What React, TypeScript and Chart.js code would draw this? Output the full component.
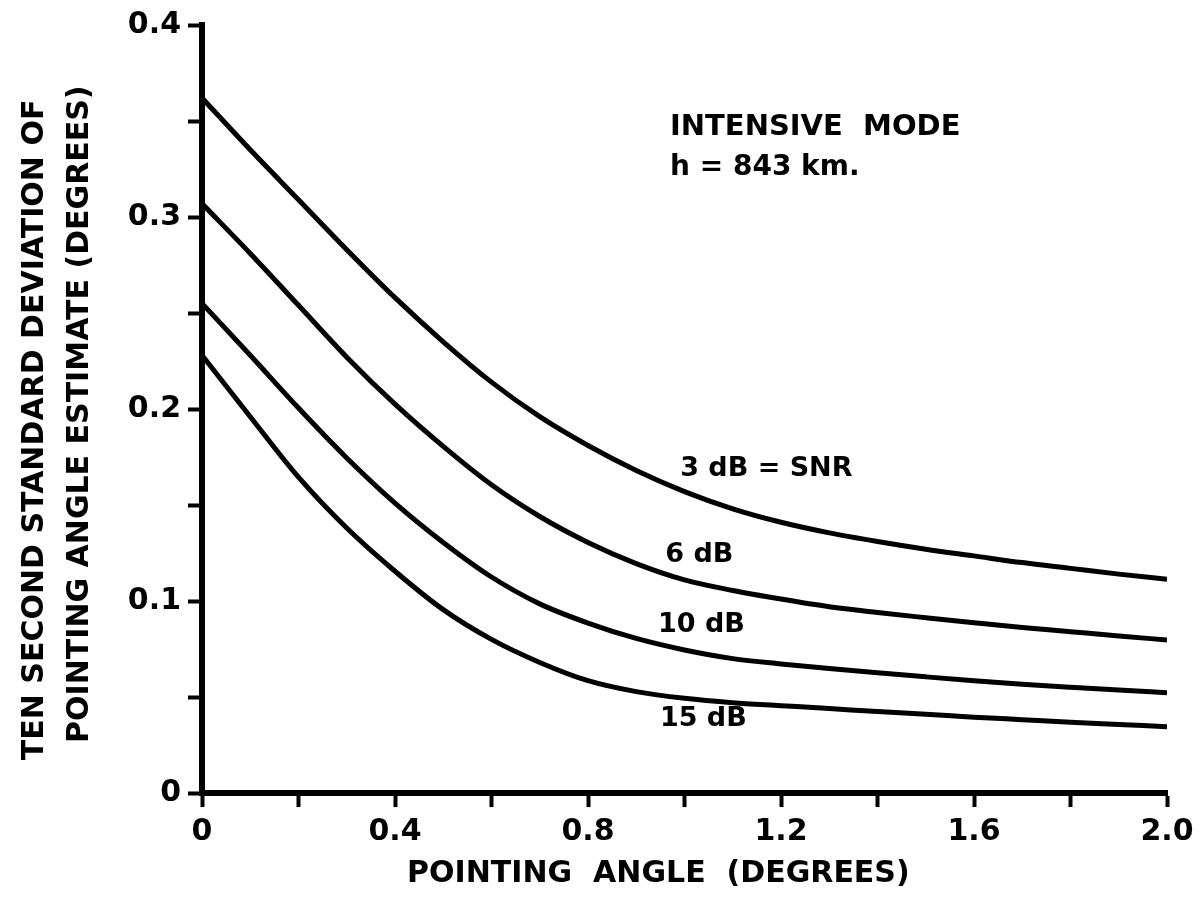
import React, { useEffect, useRef } from 'react';
import { Chart, registerables } from 'chart.js';

Chart.register(...registerables);

const FONT = '"DejaVu Sans", sans-serif';

// Pointing angle (degrees), common to all curves
const angles = [0, 0.1, 0.2, 0.3, 0.4, 0.5, 0.6, 0.7, 0.8, 0.9, 1.0, 1.1, 1.2, 1.3, 1.4, 1.5, 1.6, 1.7, 1.8, 1.9, 2.0];

// Ten second standard deviation of pointing angle estimate (degrees)
const sd3dB = [0.362, 0.335, 0.309, 0.283, 0.258, 0.235, 0.214, 0.196, 0.181, 0.168, 0.157, 0.148, 0.141, 0.1355, 0.131, 0.127, 0.1235, 0.12, 0.117, 0.114, 0.1113];
const sd6dB = [0.307, 0.281, 0.254, 0.227, 0.2025, 0.1805, 0.1605, 0.144, 0.1305, 0.1195, 0.111, 0.1055, 0.101, 0.097, 0.094, 0.0913, 0.0887, 0.0862, 0.084, 0.0818, 0.0797];
const sd10dB = [0.255, 0.228, 0.2005, 0.1745, 0.151, 0.1305, 0.1125, 0.0985, 0.0885, 0.0805, 0.0745, 0.07, 0.0672, 0.0648, 0.0626, 0.0605, 0.0585, 0.0567, 0.0551, 0.0536, 0.0522];
const sd15dB = [0.228, 0.196, 0.1645, 0.138, 0.1155, 0.0955, 0.08, 0.068, 0.0585, 0.0528, 0.0493, 0.047, 0.0455, 0.044, 0.0424, 0.041, 0.0395, 0.0382, 0.0369, 0.0357, 0.0345];

const seriesNames = ['3 dB = SNR', '6 dB', '10 dB', '15 dB'];
const xTickLabels = ['0', '0.4', '0.8', '1.2', '1.6', '2.0'];
const yTickLabels = ['0', '0.1', '0.2', '0.3', '0.4'];

const xTitle = 'POINTING  ANGLE  (DEGREES)     ';
const yTitle = ['TEN SECOND STANDARD DEVIATION OF    ', 'POINTING ANGLE ESTIMATE (DEGREES) '];

// Text notes placed in data coordinates
const notes = [
  { text: 'INTENSIVE  MODE', x: 0.97, y: 0.3468, size: 29 },
  { text: 'h = 843 km.', x: 0.97, y: 0.3257, size: 28 },
  { text: seriesNames[0], x: 0.991, y: 0.169, size: 27 },
  { text: seriesNames[1], x: 0.96, y: 0.124, size: 27 },
  { text: seriesNames[2], x: 0.945, y: 0.0874, size: 27 },
  { text: seriesNames[3], x: 0.949, y: 0.0385, size: 27 },
];

const toPoints = (ys: number[]) => angles.map((x, i) => ({ x, y: ys[i] }));

const notesPlugin = {
  id: 'curveNotes',
  afterDatasetsDraw(chart: any) {
    const { ctx, scales } = chart;
    const xs = scales.x;
    const ys = scales.y;
    ctx.save();
    ctx.fillStyle = '#000';
    ctx.textAlign = 'left';
    ctx.textBaseline = 'middle';
    notes.forEach((n) => {
      ctx.font = `bold ${n.size}px ${FONT}`;
      ctx.fillText(n.text, xs.getPixelForValue(n.x), ys.getPixelForValue(n.y));
    });
    ctx.restore();
  },
};

export default function App() {
  const canvasRef = useRef<HTMLCanvasElement | null>(null);

  useEffect(() => {
    const canvas = canvasRef.current;
    if (!canvas) return;
    const lineStyle = {
      borderColor: '#000',
      backgroundColor: '#000',
      borderWidth: 5,
      pointRadius: 0,
      fill: false,
      cubicInterpolationMode: 'monotone' as const,
    };
    const chart = new Chart(canvas, {
      type: 'line',
      data: {
        datasets: [
          { label: seriesNames[0], data: toPoints(sd3dB), ...lineStyle },
          { label: seriesNames[1], data: toPoints(sd6dB), ...lineStyle },
          { label: seriesNames[2], data: toPoints(sd10dB), ...lineStyle },
          { label: seriesNames[3], data: toPoints(sd15dB), ...lineStyle },
        ],
      },
      options: {
        responsive: false,
        animation: false,
        layout: { padding: { top: 24, right: 35, bottom: 0, left: 0 } },
        plugins: {
          legend: { display: false },
          tooltip: { enabled: false },
          title: { display: false },
        },
        scales: {
          x: {
            type: 'linear',
            min: 0,
            max: 2,
            afterFit: (s: any) => {
              s.height = 108;
            },
            border: { display: true, color: '#000', width: 6 },
            grid: {
              drawOnChartArea: false,
              drawTicks: true,
              tickLength: 14,
              tickWidth: 4,
              tickColor: '#000',
            },
            ticks: {
              stepSize: 0.2,
              autoSkip: false,
              maxRotation: 0,
              padding: 7,
              color: '#000',
              font: { family: FONT, size: 30, weight: 'bold' },
              callback: (value: any) => {
                const i = Math.round(Number(value) / 0.2);
                return i % 2 === 0 ? xTickLabels[i / 2] : '';
              },
            },
            title: {
              display: true,
              text: xTitle,
              color: '#000',
              font: { family: FONT, size: 30, weight: 'bold', lineHeight: 1.2 },
              padding: { top: 0, bottom: 9 },
            },
          },
          y: {
            type: 'linear',
            min: 0,
            max: 0.4,
            afterFit: (s: any) => {
              s.width = 202;
            },
            border: { display: true, color: '#000', width: 6 },
            grid: {
              drawOnChartArea: false,
              drawTicks: true,
              tickLength: 14,
              tickWidth: 4,
              tickColor: '#000',
            },
            ticks: {
              stepSize: 0.05,
              autoSkip: false,
              padding: 7,
              color: '#000',
              font: { family: FONT, size: 30, weight: 'bold' },
              callback: (value: any) => {
                const i = Math.round(Number(value) / 0.05);
                return i % 2 === 0 ? yTickLabels[i / 2] : '';
              },
            },
            title: {
              display: true,
              text: yTitle,
              color: '#000',
              font: { family: FONT, size: 30, weight: 'bold', lineHeight: 1.5 },
              padding: { top: 12.5, bottom: 0 },
            },
          },
        },
      },
      plugins: [notesPlugin],
    });
    return () => chart.destroy();
  }, []);

  return (
    <div style={{ position: 'fixed', left: 0, top: 0, width: 1202, height: 901, background: '#fff' }}>
      <canvas ref={canvasRef} width={1202} height={901} style={{ display: 'block' }} />
    </div>
  );
}
